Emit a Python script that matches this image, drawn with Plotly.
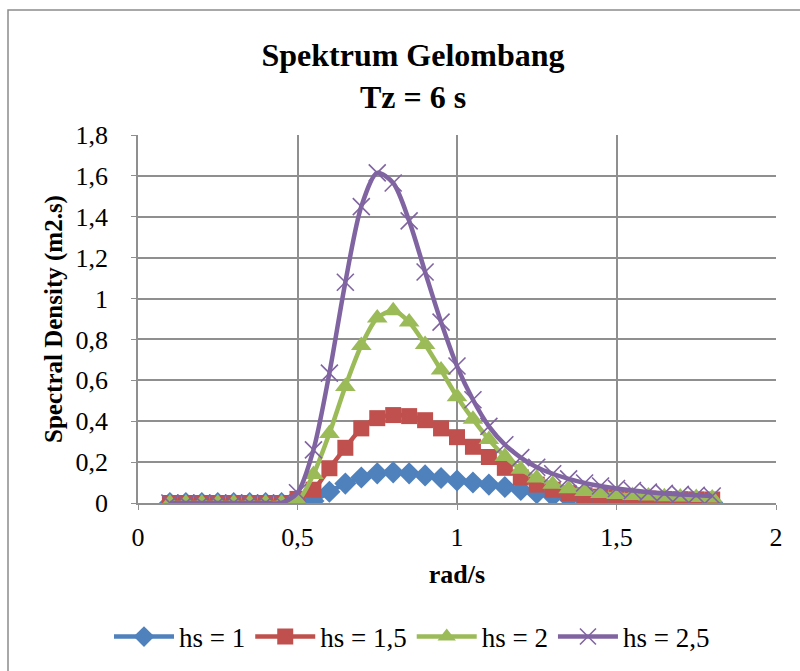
import plotly.graph_objects as go

# ---- data ----
omega = [0.10, 0.15, 0.20, 0.25, 0.30, 0.35, 0.40, 0.45, 0.50, 0.55,
         0.60, 0.65, 0.70, 0.75, 0.80, 0.85, 0.90, 0.95, 1.00, 1.05,
         1.10, 1.15, 1.20, 1.25, 1.30, 1.35, 1.40, 1.45, 1.50, 1.55,
         1.60, 1.65, 1.70, 1.75, 1.80]

hs_1 = [0, 0, 0, 0, 0, 0, 0, 0, 0.0, 0.010,
        0.055, 0.095, 0.125, 0.145, 0.150, 0.145, 0.135, 0.122, 0.110, 0.100,
        0.090, 0.078, 0.064, 0.048, 0.034, 0.022, 0.014, 0.009, 0.006, 0.005,
        0.004, 0.003, 0.003, 0.002, 0.002]

hs_1_5 = [0, 0, 0, 0, 0, 0, 0, 0, 0.020, 0.065,
          0.170, 0.270, 0.365, 0.415, 0.430, 0.425, 0.405, 0.365, 0.322, 0.275,
          0.225, 0.172, 0.125, 0.090, 0.065, 0.048, 0.038, 0.031, 0.027, 0.024,
          0.022, 0.020, 0.019, 0.018, 0.017]

hs_2 = [0, 0, 0, 0, 0, 0, 0, 0, 0.010, 0.140,
        0.340, 0.570, 0.770, 0.905, 0.940, 0.885, 0.775, 0.650, 0.520, 0.410,
        0.310, 0.228, 0.165, 0.122, 0.092, 0.070, 0.056, 0.047, 0.041, 0.037,
        0.034, 0.031, 0.029, 0.027, 0.025]

hs_2_5 = [0, 0, 0, 0, 0, 0, 0, 0, 0.050, 0.260,
          0.635, 1.080, 1.450, 1.615, 1.565, 1.380, 1.130, 0.885, 0.670, 0.505,
          0.375, 0.285, 0.222, 0.175, 0.143, 0.118, 0.098, 0.083, 0.071, 0.061,
          0.053, 0.047, 0.042, 0.038, 0.034]

series_names = ["hs = 1", "hs = 1,5", "hs = 2", "hs = 2,5"]
x_ticks = [0, 0.5, 1, 1.5, 2]
y_ticks = [0, 0.2, 0.4, 0.6, 0.8, 1.0, 1.2, 1.4, 1.6, 1.8]

# ---- styling ----
FONT = "Liberation Serif, Times New Roman, serif"
colors = ["#4F81BD", "#C0504D", "#9BBB59", "#8064A2"]
symbols = ["diamond", "square", "triangle-up", "x-thin"]
sizes = [17, 16, 18, 17]

fig = go.Figure()
for name, ys, col, sym, sz in zip(series_names, [hs_1, hs_1_5, hs_2, hs_2_5],
                                  colors, symbols, sizes):
    marker = dict(symbol=sym, size=sz, color=col)
    if sym == "x-thin":
        marker["line"] = dict(color=col, width=1.6)
    fig.add_trace(go.Scatter(
        x=omega, y=ys, name=name, mode="lines+markers",
        line=dict(color=col, width=4.5, shape="spline", smoothing=0.8),
        marker=marker,
    ))

GRID = "#8f8f8f"
fig.update_layout(
    width=800, height=671, autosize=False,
    margin=dict(l=138, r=24, t=135, b=168),
    paper_bgcolor="white", plot_bgcolor="white",
    separators=",.",
    font=dict(family=FONT, size=25, color="black"),
    title=dict(
        text="<b>Spektrum Gelombang<br>Tz = 6 s</b>",
        x=413 / 800, xanchor="center",
        y=1 - 66 / 671, yanchor="middle",
        font=dict(family=FONT, size=32, color="black"),
    ),
    xaxis=dict(
        range=[0, 2], tickvals=x_ticks, showgrid=True, gridcolor=GRID, gridwidth=1.5,
        showline=True, linecolor=GRID, linewidth=1.5, ticks="outside", ticklen=5,
        tickcolor=GRID, zeroline=False, ticklabelstandoff=5,
        tickfont=dict(family=FONT, size=26),
        title=dict(text="<b>rad/s</b>", font=dict(family=FONT, size=26), standoff=14),
    ),
    yaxis=dict(
        range=[0, 1.8], tickvals=y_ticks, showgrid=True, gridcolor=GRID, gridwidth=1.5,
        showline=True, linecolor=GRID, linewidth=1.5, ticks="outside", ticklen=5,
        tickcolor=GRID, zeroline=False, ticklabelstandoff=18,
        tickfont=dict(family=FONT, size=26),
        title=dict(text="<b>Spectral Density (m2.s)</b>", font=dict(family=FONT, size=25), standoff=6),
    ),
    legend=dict(
        orientation="h", x=412 / 800, xref="container", xanchor="center",
        y=(671 - 637) / 671, yref="container", yanchor="middle",
        font=dict(family=FONT, size=27), itemwidth=60, tracegroupgap=0,
    ),
    showlegend=True,
)

# outer chart-area border (extends past the right/bottom image edge as in the reference)
fig.add_shape(type="rect", xref="paper", yref="paper",
              x0=(8 - 138) / 638, x1=(830 - 138) / 638,
              y0=(503 - 700) / 368, y1=(503 - 10) / 368,
              line=dict(color="#8c8c8c", width=1.5), fillcolor="rgba(0,0,0,0)", layer="below")

fig.write_html("out.html")
